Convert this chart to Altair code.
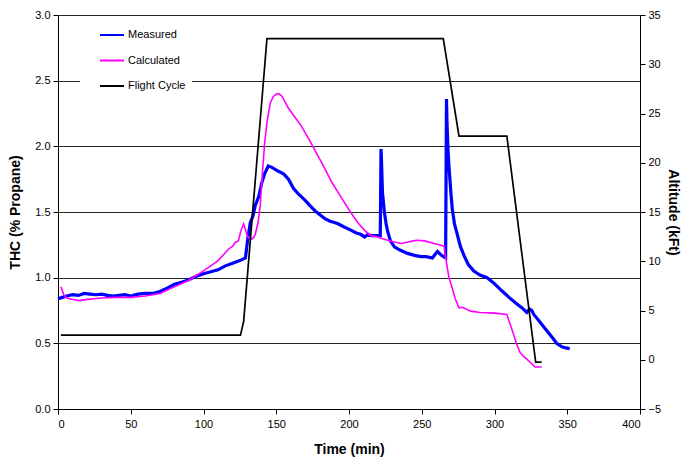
import altair as alt
import pandas as pd

# ---- data ----
meas_t = [0, 3, 6, 10, 14, 18, 22, 26, 30, 34, 38, 42, 46, 50, 55, 60, 65, 70, 75, 80, 85, 90, 95,
          100, 105, 110, 115, 120, 125, 128.8, 130.5, 132.2, 134, 135.6, 138, 140, 142, 144.5, 147,
          151.5, 155, 158.4, 161.8, 165, 169.7, 173, 176.6, 180, 183.4, 187, 190, 192.5, 196, 201.6,
          205, 208, 210.7, 213, 215.2, 218, 221.5, 222, 222.3, 223, 224.3, 225.5, 226.6, 228.5, 231.2,
          235, 240.3, 245, 249.4, 253, 257.3, 260.8, 263.5, 266.4, 267, 267.3, 268, 268.7, 270, 271,
          272.5, 274.4, 276.5, 279, 282, 285.8, 290, 294.9, 299.4, 305, 310, 315.4, 319, 322.2, 324,
          325.6, 327, 330, 335, 340, 342.7, 346, 349, 351.7]
meas_v = [0.84, 0.85, 0.86, 0.87, 0.865, 0.88, 0.875, 0.87, 0.875, 0.865, 0.86, 0.865, 0.87, 0.86,
          0.875, 0.88, 0.88, 0.895, 0.92, 0.95, 0.965, 0.985, 1.01, 1.03, 1.045, 1.06, 1.09, 1.11,
          1.13, 1.15, 1.30, 1.42, 1.47, 1.55, 1.62, 1.72, 1.79, 1.85, 1.84, 1.81, 1.79, 1.75, 1.68,
          1.64, 1.59, 1.55, 1.51, 1.48, 1.45, 1.43, 1.42, 1.41, 1.39, 1.36, 1.34, 1.33, 1.31, 1.33,
          1.32, 1.32, 1.32, 1.98, 1.90, 1.65, 1.50, 1.41, 1.35, 1.28, 1.235, 1.21, 1.185, 1.17, 1.16,
          1.16, 1.15, 1.20, 1.17, 1.15, 2.36, 2.20, 1.98, 1.85, 1.65, 1.52, 1.41, 1.33, 1.24, 1.17,
          1.10, 1.05, 1.02, 1.00, 0.96, 0.90, 0.85, 0.80, 0.77, 0.735, 0.76, 0.75, 0.72, 0.68, 0.61,
          0.54, 0.50, 0.475, 0.465, 0.46]

calc_t = [2, 4, 6, 9.4, 14.6, 20, 25, 30, 40, 50, 60, 70, 80, 90, 99.7, 105, 110, 115, 117.4, 120,
          122, 124, 125.5, 127.6, 129, 130, 132.2, 134, 135.6, 137.5, 139, 140.5, 142, 143.6, 145.9,
          148, 150.4, 152, 154, 158.4, 163, 167.5, 173.2, 178, 183.4, 188, 192.5, 197, 201.6, 206,
          210.7, 215, 219.8, 222, 226.6, 230, 235.7, 240, 244, 247, 252, 258.5, 262, 265.3, 266,
          268.7, 271, 273, 275.6, 278, 283.5, 290, 300, 308.5, 310, 313.1, 315, 317.6, 320, 322.2,
          325, 327.8, 330, 332.4]
calc_v = [0.93, 0.87, 0.845, 0.835, 0.825, 0.835, 0.84, 0.845, 0.85, 0.85, 0.86, 0.88, 0.93, 0.98,
          1.05, 1.09, 1.13, 1.19, 1.22, 1.24, 1.27, 1.28, 1.35, 1.41, 1.36, 1.32, 1.29, 1.30, 1.33,
          1.42, 1.55, 1.80, 2.02, 2.18, 2.33, 2.38, 2.40, 2.40, 2.38, 2.29, 2.22, 2.15, 2.04, 1.94,
          1.83, 1.73, 1.65, 1.57, 1.49, 1.42, 1.36, 1.32, 1.31, 1.30, 1.285, 1.275, 1.26, 1.27, 1.28,
          1.285, 1.28, 1.26, 1.25, 1.24, 1.18, 1.00, 0.92, 0.84, 0.77, 0.775, 0.745, 0.735, 0.73,
          0.72, 0.67, 0.57, 0.50, 0.43, 0.40, 0.38, 0.35, 0.32, 0.32, 0.32]

flight_t = [2, 125.4, 127.6, 143.6, 264.8, 275.6, 308.5, 328.3, 332.4]
flight_v = [2.5, 2.5, 3.9, 32.6, 32.6, 22.7, 22.7, -0.25, -0.25]

series_names = ["Measured", "Calculated", "Flight Cycle"]
series_colors = ["#0000FF", "#FF00FF", "#000000"]

left_ticks = [0.0, 0.5, 1.0, 1.5, 2.0, 2.5, 3.0]
right_ticks = [-5, 0, 5, 10, 15, 20, 25, 30, 35]
x_ticks = [0, 50, 100, 150, 200, 250, 300, 350, 400]

meas_df = pd.DataFrame({"t": meas_t, "v": meas_v, "series": "Measured"})
calc_df = pd.DataFrame({"t": calc_t, "v": calc_v, "series": "Calculated"})
flight_df = pd.DataFrame({"t": flight_t, "v": flight_v, "series": "Flight Cycle"})

FONT = "Liberation Sans"

legend = alt.Legend(
    orient="none", legendX=22, legendY=1, title=None, fillColor="white", padding=6,
    symbolType="stroke", symbolSize=576, symbolStrokeWidth=2, symbolOffset=13,
    labelFont=FONT, labelFontSize=11, labelColor="black", rowPadding=7.5, labelOffset=3,
)
color = alt.Color("series:N", scale=alt.Scale(domain=series_names, range=series_colors),
                  legend=legend)

x_enc = alt.X("t:Q", scale=alt.Scale(domain=[0, 400], nice=False),
              axis=alt.Axis(values=x_ticks, title="Time (min)", grid=False, tickSize=5,
                            labelPadding=4, titlePadding=13, format="d"))

y_left = alt.Y("v:Q", scale=alt.Scale(domain=[0, 3], nice=False),
               axis=alt.Axis(values=left_ticks, format=".1f", title="THC (% Propane)", orient="left",
                             grid=True, gridColor="#000000", gridWidth=1, gridOpacity=0.85,
                             tickSize=5, labelPadding=3, titlePadding=12))

y_right = alt.Y("v:Q", scale=alt.Scale(domain=[-5, 35], nice=False),
                axis=alt.Axis(values=right_ticks, format="d", title="Altitude (kFt)", orient="right",
                              grid=False, tickSize=5, labelPadding=3, titlePadding=5))

meas = alt.Chart(meas_df).mark_line(strokeWidth=3.2).encode(x=x_enc, y=y_left, color=color)
calc = alt.Chart(calc_df).mark_line(strokeWidth=1.6).encode(x=x_enc, y=y_left, color=color)
flight = alt.Chart(flight_df).mark_line(strokeWidth=1.7).encode(x=x_enc, y=y_right, color=color)

chart = alt.layer(alt.layer(meas, calc), flight).resolve_scale(y="independent").properties(
    width=582, height=394,
    autosize=alt.AutoSizeParams(type="none"),
    padding={"left": 50, "top": 7, "right": 41, "bottom": 49},
).configure_view(stroke="transparent").configure_axis(
    domainColor="black", tickColor="black", labelFont=FONT, labelFontSize=11, labelColor="black",
    titleFont=FONT, titleFontSize=14, titleFontWeight="bold", titleColor="black",
)

chart.save("out.html", embed_options={"renderer": "svg", "actions": False})
